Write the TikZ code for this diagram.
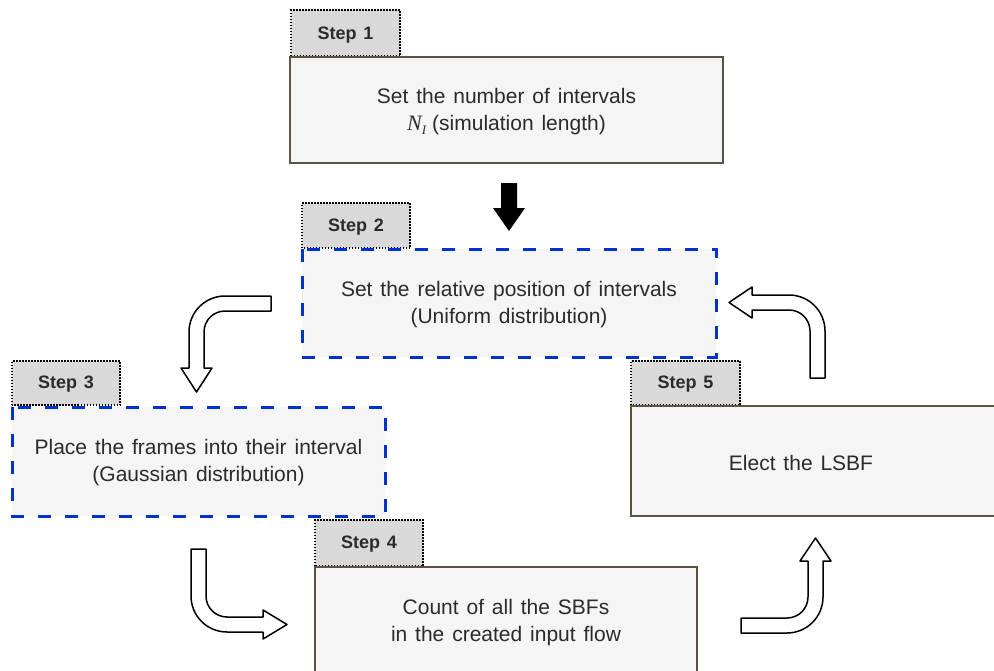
\documentclass[tikz,border=0pt]{standalone}
\usepackage{fontspec}
\setmainfont[WordSpace=1.35]{Liberation Sans}
\newfontfamily\serifface{Liberation Serif}
\definecolor{boxfill}{HTML}{F5F5F5}
\definecolor{tabfill}{HTML}{D9D9D9}
\definecolor{boxline}{HTML}{5B5343}
\definecolor{dashblue}{HTML}{0033CC}
\definecolor{txt}{HTML}{2B2B2B}
\begin{document}
\begin{tikzpicture}[x=1pt,y=1pt,
  stepbox/.style={draw=boxline,line width=2pt,fill=boxfill},
  dashbox/.style={draw=dashblue,line width=3pt,fill=boxfill,dash pattern=on 13pt off 14pt},
  tabbox/.style={draw=black,line width=1.5pt,fill=tabfill,dash pattern=on 1.5pt off 1.5pt},
  tablabel/.style={font=\fontsize{18}{20}\selectfont\bfseries,text=txt},
  boxtext/.style={font=\fontsize{21}{27}\selectfont,text=txt,align=center},
  hollow/.style={draw=black,line width=1.5pt,fill=white,line join=round}]
\useasboundingbox (0,0) rectangle (994,-670);
\clip (0,0) rectangle (994,-670);
% Step 1
\draw[tabbox] (291,-56) rectangle (400,-10);
\node[tablabel] (t1) at (345.5,-35) {Step 1};
\draw[stepbox] (290,-57) rectangle (723,-163);
\node[boxtext] (b1) at (506.5,-112) {Set the number of intervals\\{\serifface\itshape\fontsize{22}{27}\selectfont N\raisebox{-4pt}{\fontsize{13}{13}\selectfont I}}\hspace{6pt}(simulation length)};
% black arrow
\fill[black] (501,-183) -- (517,-183) -- (517,-208) -- (525,-208) -- (509,-231) -- (493,-208) -- (501,-208) -- cycle;
% Step 2
\draw[tabbox] (302,-248) rectangle (410,-203);
\node[tablabel] (t2) at (356,-227) {Step 2};
\draw[dashbox] (302,-249) rectangle (716,-357);
\node[boxtext] (b2) at (509,-305) {Set the relative position of intervals\\(Uniform distribution)};
% Step 3
\draw[tabbox] (12,-405) rectangle (120,-361);
\node[tablabel] (t3) at (66,-384) {Step 3};
\draw[dashbox] (12,-407) rectangle (385,-516);
\node[boxtext] (b3) at (198.5,-463) {Place the frames into their interval\\(Gaussian distribution)};
% Step 4
\draw[tabbox] (315,-566) rectangle (423,-520);
\node[tablabel] (t4) at (369,-544) {Step 4};
\draw[stepbox] (315,-567) rectangle (697,-690);
\node[boxtext] (b4) at (506,-623) {Count of all the SBFs\\in the created input flow};
% Step 5
\draw[tabbox] (631,-405) rectangle (740,-361);
\node[tablabel] (t5) at (685.5,-384) {Step 5};
\draw[stepbox] (631,-406) rectangle (1000,-516);
\node[boxtext] (b5) at (801,-463) {Elect the LSBF};
% hollow curved arrows
\draw[hollow] (271,-296) -- (225,-296) arc[start angle=90,end angle=180,radius=36] -- (189,-368) -- (181,-368) -- (196.5,-392) -- (212,-368) -- (204,-368) -- (204,-332) arc[start angle=180,end angle=90,radius=21] -- (271,-311) -- cycle;
\draw[hollow] (191,-549) -- (191,-596) arc[start angle=180,end angle=270,radius=36] -- (263,-632) -- (263,-639) -- (287,-624.5) -- (263,-610) -- (263,-617) -- (227,-617) arc[start angle=270,end angle=180,radius=21] -- (206,-549) -- cycle;
\draw[hollow] (741,-633) -- (787,-633) arc[start angle=270,end angle=360,radius=36] -- (823,-561) -- (831,-561) -- (815.5,-538) -- (800,-561) -- (808,-561) -- (808,-597) arc[start angle=0,end angle=-90,radius=21] -- (741,-618) -- cycle;
\draw[hollow] (810,-378) -- (810,-331) arc[start angle=0,end angle=90,radius=21] -- (752,-310) -- (752,-318) -- (729,-302.5) -- (752,-287) -- (752,-295) -- (789,-295) arc[start angle=90,end angle=0,radius=36] -- (825,-378) -- cycle;
\end{tikzpicture}
\end{document}
